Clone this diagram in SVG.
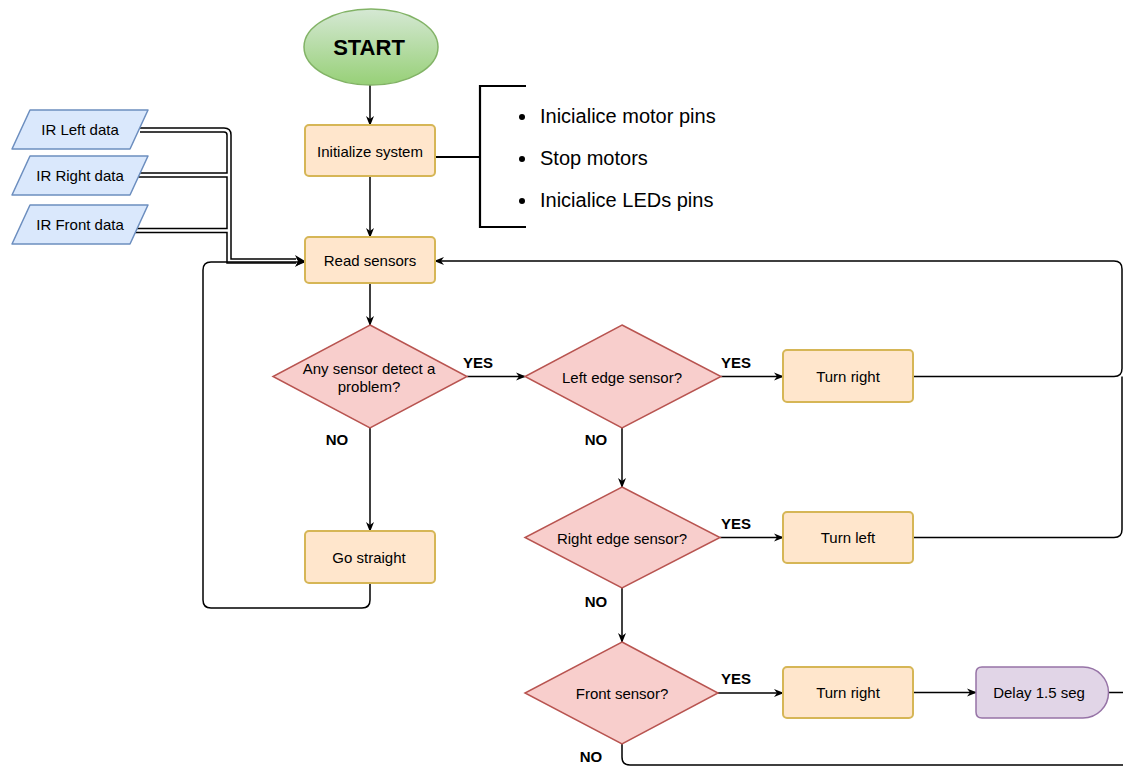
<svg xmlns="http://www.w3.org/2000/svg" width="1123" height="767" viewBox="0 0 1123 767">
<defs>
<linearGradient id="gStart" x1="0" y1="0" x2="0" y2="1"><stop offset="0" stop-color="#d5e8d4"/><stop offset="1" stop-color="#97d077"/></linearGradient>
<marker id="arr" markerWidth="10" markerHeight="10" refX="9" refY="5" orient="auto" markerUnits="userSpaceOnUse"><path d="M0,1 L10,5 L0,9 L3,5 z" fill="#000"/></marker>
<style>
text{font-family:"Liberation Sans",Arial,sans-serif;fill:#000}
.t{font-size:15px;text-anchor:middle;dominant-baseline:central}
.b{font-size:15px;font-weight:bold;text-anchor:middle;dominant-baseline:central}
.l{font-size:20px;dominant-baseline:central}
.proc{fill:#ffe6cc;stroke:#d6b656;stroke-width:2}
.dec{fill:#f8cecc;stroke:#b85450;stroke-width:1.5}
.io{fill:#dae8fc;stroke:#6c8ebf;stroke-width:1.5;stroke-linejoin:round}
.c{fill:none;stroke:#000;stroke-width:1.5}
.ca{fill:none;stroke:#000;stroke-width:1.5;marker-end:url(#arr)}
.br{fill:none;stroke:#000;stroke-width:2.2}
.lk{fill:none;stroke:#000;stroke-width:5.5}
.lw{fill:none;stroke:#fff;stroke-width:2.5}
</style>
</defs>
<rect width="1123" height="767" fill="#fff"/>

<g id="connectors">
  <path class="lk" d="M140 130 H224 Q229 130 229 135 V261 H296"/>
  <path class="lk" d="M134 175 H229"/>
  <path class="lk" d="M132 230.5 H229"/>
  <path class="lw" d="M140 130 H224 Q229 130 229 135 V261 H296"/>
  <path class="lw" d="M134 175 H229"/>
  <path class="lw" d="M132 230.5 H229"/>
  <path d="M295 255 L305 261 L295 267 L298 261 z" fill="#000"/>
  <path class="ca" d="M370 85 V125"/>
  <path class="ca" d="M370 176 V237"/>
  <path class="br" d="M435 157 H480"/>
  <path class="br" d="M526 86 H480 V227 H526"/>
  <path class="ca" d="M370 283 V325"/>
  <path class="ca" d="M370 428 V531"/>
  <path class="ca" d="M370 583 V600 Q370 608 362 608 H211 Q203 608 203 600 V270 Q203 262 211 262 H305"/>
  <path class="ca" d="M467 376.5 H525"/>
  <path class="ca" d="M721 376.5 H783"/>
  <path class="ca" d="M622 428 V487"/>
  <path class="ca" d="M720 537.5 H783"/>
  <path class="ca" d="M622 588 V642"/>
  <path class="ca" d="M718 693 H783"/>
  <path class="ca" d="M913 692.5 H976"/>
  <path class="c" d="M1108 692.5 H1123"/>
  <path class="c" d="M622 744 V757 Q622 765 630 765 H1123"/>
  <path class="ca" d="M913 376.5 H1114 Q1122 376.5 1122 368.5 V269 Q1122 261 1114 261 H435"/>
  <path class="c" d="M913 537.5 H1114 Q1122 537.5 1122 529.5 V376.5"/>
</g>

<g id="start"><ellipse cx="371" cy="47" rx="67" ry="38" fill="url(#gStart)" stroke="#82b366" stroke-width="1.5"/><text x="369" y="47" style="font-size:22px;font-weight:bold;text-anchor:middle;dominant-baseline:central">START</text></g>

<g id="ir-left"><polygon class="io" points="30,110 148,110 130,149 12,149"/><text class="t" x="80" y="129">IR Left data</text></g>
<g id="ir-right"><polygon class="io" points="30,156 148,156 130,195 12,195"/><text class="t" x="80" y="175">IR Right data</text></g>
<g id="ir-front"><polygon class="io" points="30,205 148,205 130,244 12,244"/><text class="t" x="80" y="224">IR Front data</text></g>

<g id="init"><rect class="proc" x="305" y="125" width="130" height="51" rx="4"/><text class="t" x="370" y="151">Initialize system</text></g>

<g id="init-notes">
  <circle cx="522" cy="117" r="3"/><text class="l" x="540" y="116">Inicialice motor pins</text>
  <circle cx="522" cy="159" r="3"/><text class="l" x="540" y="158">Stop motors</text>
  <circle cx="522" cy="201" r="3"/><text class="l" x="540" y="200">Inicialice LEDs pins</text>
</g>

<g id="read"><rect class="proc" x="305" y="237" width="130" height="46" rx="4"/><text class="t" x="370" y="260">Read sensors</text></g>

<g id="any"><polygon class="dec" points="370,325 467,376.5 370,428 273,376.5"/><text class="t" x="369" y="368">Any sensor detect a</text><text class="t" x="369" y="386">problem?</text></g>

<g id="go"><rect class="proc" x="305" y="531" width="130" height="52" rx="4"/><text class="t" x="369" y="557">Go straight</text></g>

<g id="left-edge"><polygon class="dec" points="622,325 721,376.5 622,428 525,376.5"/><text class="t" x="622" y="377">Left edge sensor?</text></g>
<g id="right-edge"><polygon class="dec" points="622,487 720,537.5 622,588 525,537.5"/><text class="t" x="622" y="538">Right edge sensor?</text></g>
<g id="front"><polygon class="dec" points="622,642 718,693 622,744 525,693"/><text class="t" x="622" y="693">Front sensor?</text></g>

<g id="turn-right-1"><rect class="proc" x="783" y="350" width="130" height="52" rx="4"/><text class="t" x="848" y="376">Turn right</text></g>
<g id="turn-left"><rect class="proc" x="783" y="512" width="130" height="51" rx="4"/><text class="t" x="848" y="537">Turn left</text></g>
<g id="turn-right-2"><rect class="proc" x="783" y="667" width="130" height="51" rx="4"/><text class="t" x="848" y="692">Turn right</text></g>
<g id="delay"><path d="M982 667 H1083 A25.5 25.5 0 0 1 1083 718 H982 Q976 718 976 712 V673 Q976 667 982 667 z" fill="#e1d5e7" stroke="#9673a6" stroke-width="1.5"/><text class="t" x="1039" y="692">Delay 1.5 seg</text></g>

<g id="labels">
  <text class="b" x="478" y="362">YES</text>
  <text class="b" x="736" y="362">YES</text>
  <text class="b" x="736" y="523">YES</text>
  <text class="b" x="736" y="678">YES</text>
  <text class="b" x="337" y="439">NO</text>
  <text class="b" x="596" y="439">NO</text>
  <text class="b" x="596" y="601">NO</text>
  <text class="b" x="591" y="756">NO</text>
</g>
</svg>
